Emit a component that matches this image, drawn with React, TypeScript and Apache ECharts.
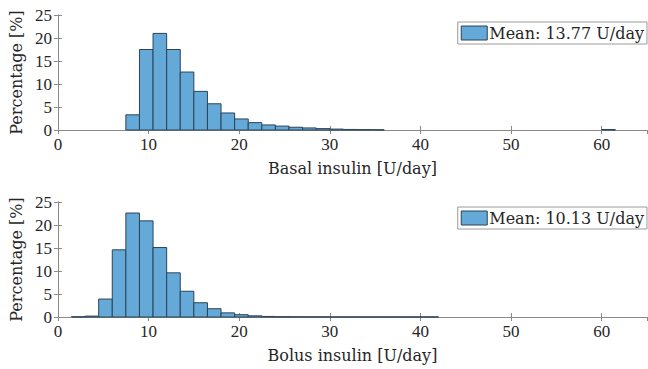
import React, { useEffect, useRef } from "react";
import * as echarts from "echarts";

const binWidth = 1.5;
const basalBinStarts = [7.5, 9, 10.5, 12, 13.5, 15, 16.5, 18, 19.5, 21, 22.5, 24, 25.5, 27, 28.5, 30, 31.5, 33, 34.5, 60];
const basalPct = [3.3, 17.5, 21.0, 17.5, 12.6, 8.4, 5.7, 3.7, 2.4, 1.6, 1.1, 0.85, 0.6, 0.45, 0.3, 0.2, 0.12, 0.08, 0.05, 0.1];
const bolusBinStarts = [1.5, 3, 4.5, 6, 7.5, 9, 10.5, 12, 13.5, 15, 16.5, 18, 19.5, 21, 22.5, 24, 25.5, 27, 28.5, 30, 31.5, 33, 34.5, 36, 37.5, 39, 40.5];
const bolusPct = [0.05, 0.2, 3.9, 14.6, 22.6, 20.9, 15.1, 9.6, 5.6, 3.1, 1.8, 0.9, 0.5, 0.25, 0.12, 0.06, 0.04, 0.03, 0.03, 0.02, 0.02, 0.02, 0.02, 0.02, 0.02, 0.02, 0.02];
const xTicks = { min: 0, max: 65, interval: 10 };
const yTicks = { min: 0, max: 25, interval: 5 };
const basalLegend = "Mean: 13.77 U/day";
const bolusLegend = "Mean: 10.13 U/day";
const basalTitle = "Basal insulin [U/day]";
const bolusTitle = "Bolus insulin [U/day]";
const yTitle = "Percentage [%]";

const FONT = "'Liberation Serif', 'DejaVu Serif', serif";
const TFONT = "'DejaVu Serif', 'Liberation Serif', serif";
const AXIS_COLOR = "#8a8a8a";
const TEXT_COLOR = "#262626";
const FACE = "#64a9d8";
const EDGE = "#2b4356";

export default function App() {
  const ref = useRef<HTMLDivElement>(null);
  useEffect(() => {
    if (!ref.current) return;
    const chart = echarts.init(ref.current, null, { renderer: "svg" });
    const mkData = (starts: number[], vals: number[]) =>
      starts.map((s, i) => [s, s + binWidth, vals[i]]);
    const renderItem = (params: any, api: any) => {
      const x0 = api.value(0);
      const x1 = api.value(1);
      const y = api.value(2);
      const p0 = api.coord([x0, y]);
      const p1 = api.coord([x1, 0]);
      return {
        type: "rect",
        shape: { x: p0[0], y: p0[1], width: p1[0] - p0[0], height: p1[1] - p0[1] },
        style: { fill: FACE, stroke: EDGE, lineWidth: 1 },
      };
    };
    const labelStyle = { color: TEXT_COLOR, fontFamily: FONT, fontSize: 17 };
    const nameStyle = { color: TEXT_COLOR, fontFamily: TFONT, fontSize: 16 };
    const bottomX = (gi: number, name: string) => ({
      type: "value",
      gridIndex: gi,
      ...xTicks,
      position: "bottom",
      name,
      nameLocation: "middle",
      nameGap: 30,
      nameTextStyle: nameStyle,
      axisLine: { show: true, lineStyle: { color: AXIS_COLOR, width: 1 } },
      axisTick: { show: true, inside: true, length: 4, lineStyle: { color: AXIS_COLOR } },
      axisLabel: { ...labelStyle, margin: 6, showMaxLabel: false },
      splitLine: { show: false },
    });
    const topX = (gi: number) => ({
      type: "value",
      gridIndex: gi,
      ...xTicks,
      position: "top",
      axisLine: { show: true, lineStyle: { color: AXIS_COLOR, width: 1 } },
      axisTick: { show: true, inside: true, length: 4, lineStyle: { color: AXIS_COLOR } },
      axisLabel: { show: false },
      splitLine: { show: false },
    });
    const leftY = (gi: number) => ({
      type: "value",
      gridIndex: gi,
      ...yTicks,
      position: "left",
      name: yTitle,
      nameLocation: "middle",
      nameGap: 30,
      nameTextStyle: nameStyle,
      axisLine: { show: true, lineStyle: { color: AXIS_COLOR, width: 1 } },
      axisTick: { show: true, inside: true, length: 4, lineStyle: { color: AXIS_COLOR } },
      axisLabel: { ...labelStyle, margin: 6 },
      splitLine: { show: false },
    });
    const rightY = (gi: number) => ({
      type: "value",
      gridIndex: gi,
      ...yTicks,
      position: "right",
      axisLine: { show: true, lineStyle: { color: AXIS_COLOR, width: 1 } },
      axisTick: { show: true, inside: true, length: 4, lineStyle: { color: AXIS_COLOR } },
      axisLabel: { show: false },
      splitLine: { show: false },
    });
    const legendBase = {
      right: 1,
      orient: "horizontal",
      icon: "rect",
      itemWidth: 26,
      itemHeight: 14,
      itemGap: 0,
      padding: [3, 3, 3, 3],
      backgroundColor: "#ffffff",
      borderColor: "#9a9a9a",
      borderWidth: 1,
      borderRadius: 0,
      textStyle: { color: TEXT_COLOR, fontFamily: TFONT, fontSize: 16, padding: [0, 0, 0, -3] },
      itemStyle: { color: FACE, borderColor: EDGE, borderWidth: 1 },
      selectedMode: false,
    };
    chart.setOption({
      animation: false,
      backgroundColor: "#ffffff",
      grid: [
        { left: 57, right: 1, top: 15, height: 115 },
        { left: 57, right: 1, top: 202, height: 115 },
      ],
      xAxis: [bottomX(0, basalTitle), topX(0), bottomX(1, bolusTitle), topX(1)],
      yAxis: [leftY(0), rightY(0), leftY(1), rightY(1)],
      legend: [
        { ...legendBase, top: 22, data: [basalLegend] },
        { ...legendBase, top: 207, data: [bolusLegend] },
      ],
      series: [
        {
          type: "custom",
          name: basalLegend,
          xAxisIndex: 0,
          yAxisIndex: 0,
          renderItem,
          encode: { x: [0, 1], y: 2 },
          itemStyle: { color: FACE, borderColor: EDGE },
          data: mkData(basalBinStarts, basalPct),
        },
        {
          type: "custom",
          name: bolusLegend,
          xAxisIndex: 2,
          yAxisIndex: 2,
          renderItem,
          encode: { x: [0, 1], y: 2 },
          itemStyle: { color: FACE, borderColor: EDGE },
          data: mkData(bolusBinStarts, bolusPct),
        },
      ],
    });
    return () => chart.dispose();
  }, []);
  return <div ref={ref} style={{ width: 648, height: 369, position: "absolute", left: 0, top: 0 }} />;
}
